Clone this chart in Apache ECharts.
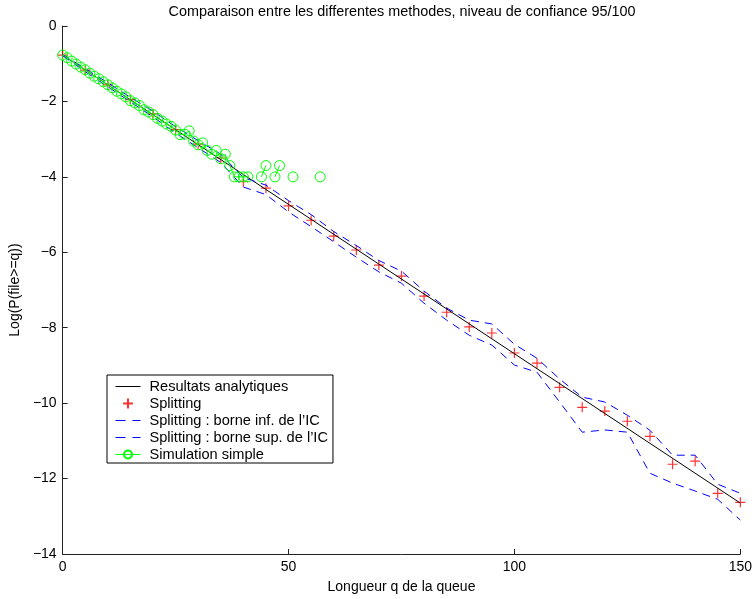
<!DOCTYPE html>
<html>
<head>
<meta charset="utf-8">
<script src="https://cdn.jsdelivr.net/npm/echarts@6/dist/echarts.min.js"></script>
<style>html,body{margin:0;padding:0;background:#fff}#c{width:755px;height:599px}</style>
</head>
<body>
<div id="c"></div>
<script>
// ---- data ----
const titleText = 'Comparaison entre les differentes methodes, niveau de confiance 95/100';
const xName = 'Longueur q de la queue';
const yName = 'Log(P(file>=q))';
const seriesNames = ['Resultats analytiques', 'Splitting', "Splitting : borne inf. de l\u2019IC", "Splitting : borne sup. de l\u2019IC", 'Simulation simple'];

const analyticQ = [0, 50, 100, 150];
const analyticV = [-0.77, -4.73, -8.69, -12.65];

const splitQ = [0,5,10,15,20,25,30,35,40,45,50,55,60,65,70,75,80,85,90,95,100,105,110,115,120,125,130,135,140,145,150];
const splitV = [-0.77,-1.17,-1.56,-1.95,-2.33,-2.75,-3.13,-3.50,-4.13,-4.30,-4.77,-5.15,-5.57,-5.94,-6.34,-6.63,-7.16,-7.59,-7.98,-8.14,-8.67,-8.94,-9.58,-10.11,-10.21,-10.48,-10.88,-11.62,-11.54,-12.39,-12.63];
const lowerV = [-0.79,-1.21,-1.61,-2.01,-2.41,-2.84,-3.23,-3.62,-4.27,-4.47,-4.93,-5.32,-5.72,-6.13,-6.52,-6.82,-7.35,-7.80,-8.20,-8.46,-8.99,-9.18,-9.97,-10.77,-10.71,-10.77,-11.86,-12.12,-12.33,-12.55,-13.10];
const upperV = [-0.75,-1.13,-1.51,-1.89,-2.26,-2.67,-3.04,-3.40,-4.02,-4.22,-4.63,-5.00,-5.45,-5.82,-6.22,-6.50,-7.03,-7.48,-7.80,-7.90,-8.44,-8.81,-9.36,-9.84,-9.97,-10.32,-10.72,-11.38,-11.38,-12.15,-12.39];

const simQ = [0,1,2,3,4,5,6,7,8,9,10,11,12,13,14,15,16,17,18,19,20,21,22,23,24,25,26,27,28,29,30,31,32,33,34,35,36,37,38,39,40,41,42,43,44,45,46,47,48,49,50,51,52,53,54,55,56,57];
const simV = [-0.77,-0.84,-0.93,-1.01,-1.09,-1.16,-1.25,-1.33,-1.40,-1.48,-1.56,-1.64,-1.73,-1.80,-1.88,-1.98,-2.04,-2.11,-2.22,-2.28,-2.35,-2.45,-2.52,-2.60,-2.66,-2.76,-2.88,-2.87,-2.78,-3.05,-3.15,-3.10,-3.30,-3.40,-3.30,-3.52,-3.40,-3.70,-4.00,-4.00,-4.00,-4.00,null,null,-4.00,-3.70,null,-4.00,-3.70,null,null,-4.00,null,null,null,null,null,-4.00];

const xTicks = {min: 0, max: 150, interval: 50};
const yTicks = {min: -14, max: 0, interval: 2};
// --------------------------------------

const FONT = 'Liberation Sans, Arial, Helvetica, sans-serif';
const pairs = (q, v) => q.map((x, i) => [x, v[i] === null ? '-' : v[i]]);
const axisCol = '#222';
const hiddenSym = () => ({color: 'rgba(0,0,0,0)', borderWidth: 0});
const ls = (c, dashed) => (dashed ? {color: c, width: 1, type: [8, 6]} : {color: c, width: 1});
// legend icons (25 x 10 box): a thin solid bar, and two thin dashes
const solidIcon = 'path://M0,0M25,10M0,4.5L25,4.5L25,5.5L0,5.5Z';
const dashIcon = 'path://M0,0M25,10M0,4.5L10,4.5L10,5.5L0,5.5ZM17,4.5L25,4.5L25,5.5L17,5.5Z';

const chart = echarts.init(document.getElementById('c'), null, {renderer: 'canvas'});
chart.setOption({
  animation: false,
  backgroundColor: '#fff',
  textStyle: {fontFamily: FONT},
  title: {
    text: titleText, left: 397, top: 0, textAlign: 'center',
    textStyle: {fontSize: 14.4, fontWeight: 'normal', color: '#000', fontFamily: FONT}
  },
  grid: {left: 62, right: 14, top: 26, bottom: 45, containLabel: false},
  xAxis: {
    type: 'value', min: xTicks.min, max: xTicks.max, interval: xTicks.interval,
    name: xName, nameLocation: 'middle', nameGap: 26,
    nameTextStyle: {fontSize: 14, color: '#000', fontFamily: FONT},
    axisLine: {onZero: false, lineStyle: {color: axisCol, width: 1}},
    axisTick: {inside: true, length: 5, lineStyle: {color: axisCol}},
    axisLabel: {fontSize: 14, color: '#000', margin: 6, fontFamily: FONT},
    splitLine: {show: false}
  },
  yAxis: {
    type: 'value', min: yTicks.min, max: yTicks.max, interval: yTicks.interval,
    name: yName, nameLocation: 'middle', nameGap: 35, nameRotate: 90,
    nameTextStyle: {fontSize: 14, color: '#000', fontFamily: FONT},
    axisLine: {show: true, onZero: false, lineStyle: {color: axisCol, width: 1}},
    axisTick: {show: true, inside: true, length: 5, lineStyle: {color: axisCol}},
    axisLabel: {fontSize: 14, color: '#000', margin: 6, fontFamily: FONT,
      formatter: v => (v < 0 ? '\u2212' + Math.abs(v) : String(v))},
    splitLine: {show: false}
  },
  legend: {
    orient: 'vertical', left: 107, top: 375,
    data: [
      {name: seriesNames[0], icon: solidIcon, itemStyle: {color: '#000', opacity: 1, borderWidth: 0}},
      {name: seriesNames[1]},
      {name: seriesNames[2], icon: dashIcon, itemStyle: {color: '#0000ff', opacity: 1, borderWidth: 0}},
      {name: seriesNames[3], icon: dashIcon, itemStyle: {color: '#0000ff', opacity: 1, borderWidth: 0}},
      {name: seriesNames[4], lineStyle: ls('#00ff00', false)}
    ],
    backgroundColor: '#fff', borderColor: '#000', borderWidth: 1,
    padding: [4, 5, 1, 8],
    itemWidth: 25, itemHeight: 10, itemGap: 2,
    textStyle: {fontSize: 14.6, color: '#000', fontFamily: FONT, padding: [0, 0, 0, 4]},
    selectedMode: false
  },
  series: [
    {
      name: seriesNames[0], type: 'line', data: pairs(analyticQ, analyticV),
      symbol: 'circle', symbolSize: 0, showSymbol: false, color: '#000',
      lineStyle: ls('#000', false), itemStyle: hiddenSym(), silent: true
    },
    {
      name: seriesNames[1], type: 'scatter', data: pairs(splitQ, splitV),
      symbol: 'path://M0,5L10,5M5,0L5,10', symbolSize: 10,
      itemStyle: {color: 'rgba(0,0,0,0)', borderColor: '#ff0000', borderWidth: 1.2}, silent: true
    },
    {
      name: seriesNames[2], type: 'line', data: pairs(splitQ, lowerV),
      symbol: 'circle', symbolSize: 0, showSymbol: false, color: '#0000ff',
      lineStyle: ls('#0000ff', true), itemStyle: hiddenSym(), silent: true
    },
    {
      name: seriesNames[3], type: 'line', data: pairs(splitQ, upperV),
      symbol: 'circle', symbolSize: 0, showSymbol: false, color: '#0000ff',
      lineStyle: ls('#0000ff', true), itemStyle: hiddenSym(), silent: true
    },
    {
      name: seriesNames[4], type: 'line', data: pairs(simQ, simV), connectNulls: false,
      symbol: 'circle', symbolSize: 10, showSymbol: true, showAllSymbol: true,
      lineStyle: ls('#00ff00', false),
      itemStyle: {color: 'rgba(0,0,0,0)', borderColor: '#00ff00', borderWidth: 1}, silent: true
    }
  ]
});
</script>
</body>
</html>
